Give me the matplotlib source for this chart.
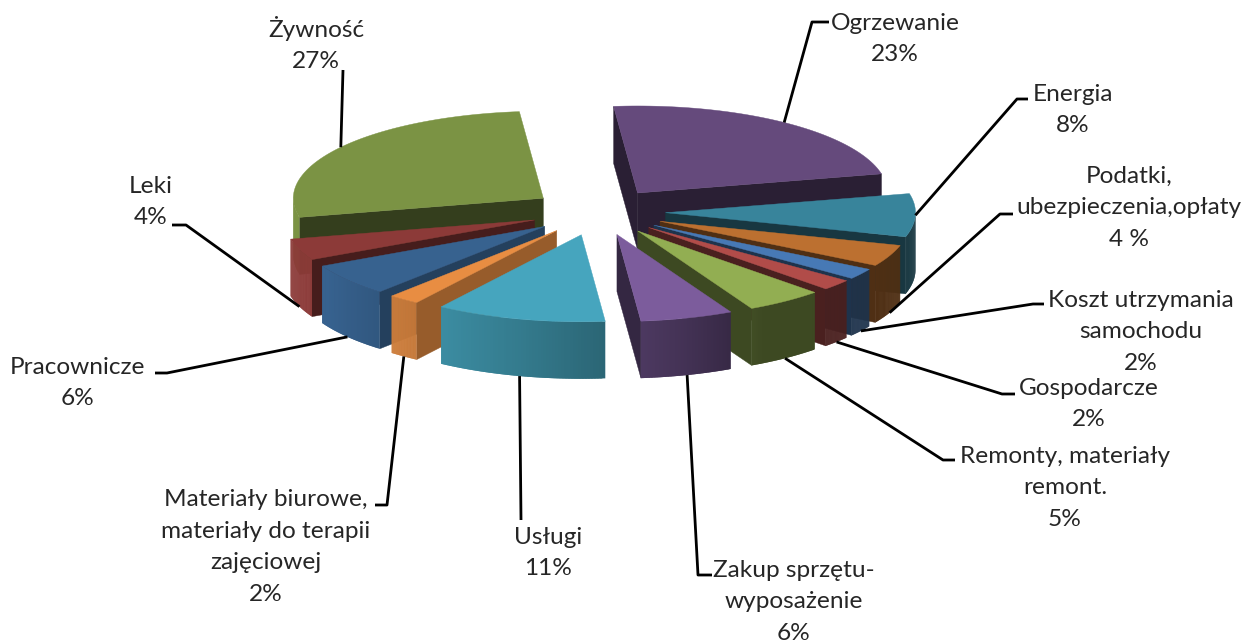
""" Exploded 3D pie of cost shares, drawn as projected polygons on a pixel canvas.
"""
import matplotlib
matplotlib.use('Agg')
import matplotlib.pyplot as plt
import numpy as np
from matplotlib.colors import to_rgb
from matplotlib.patches import Polygon

labels = ['Ogrzewanie\n23%', 'Energia\n8%', 'Podatki,\nubezpieczenia,opłaty\n4 %',
          'Koszt utrzymania\nsamochodu\n2%', 'Gospodarcze\n2%',
          'Remonty, materiały\nremont.\n5%', 'Zakup sprzętu-\nwyposażenie\n6%',
          'Usługi\n11%', 'Materiały biurowe,\nmateriały do terapii\nzajęciowej\n2%',
          'Pracownicze\n6%', 'Leki\n4%', 'Żywność\n27%']
shares = [23, 8, 4, 2, 2, 5, 6, 11, 2, 6, 4, 27]
colors = ['#654a7c', '#38849b', '#bc7030', '#4779b5', '#b14c49', '#92ae52',
          '#7c5c9c', '#46a5be', '#e88d42', '#37628f', '#8c3a38', '#7b9344']

# Label centre and the elbow of its leader line, in pixels.
label_xy = [(895, 39), (1073, 110), (1129, 208), (1141, 332), (1089, 404), (1065, 488),
            (794, 602), (548, 553), (266, 547), (78, 383), (151, 202), (316, 44)]
elbows = [[(812, 22), (829, 22)], [(1017, 99), (1028, 99)], [(1000, 214), (1013, 214)],
          [(1033, 304), (1044, 304)], [(1002, 394), (1015, 394)], [(943, 460), (955, 460)],
          [(698, 575), (712, 575)], [(521, 520)], [(387, 505), (375, 505)],
          [(167, 373), (155, 373)], [(186, 225), (172, 225)], [(343, 70)]]

CENTER = np.array([598.0, 212.0])
RX, RY = 250.0, 87.0
DEPTH = 57.0
EXPLODE = 0.27
START = -5.5


def rim(phi):
    """ Screen offset of the pie rim at angle phi (degrees, clockwise from north). """
    phi = np.radians(phi)
    return np.stack([RX * np.sin(phi), -RY * np.cos(phi)], axis=-1)


def cut_visible(apex, edge, mid):
    """ A cut face shows if the slice lies on the far side of the edge from the extrusion. """
    e = edge - apex
    m = mid - apex
    return (e[0] * m[1] - e[1] * m[0]) * e[0] < 0


def wall_shade(phi):
    return np.interp(phi, [150, 165, 175, 195, 214, 240], [0.42, 0.55, 0.62, 0.75, 0.85, 1.0])


def cut_shade(phi):
    return np.interp(phi, [190, 200, 225, 243, 257], [0.42, 0.65, 0.65, 0.5, 0.42])


def shaded(color, factor):
    return tuple(np.array(to_rgb(color)) * factor)


def draw_slice(ax, apex, phi0, phi1, color):
    phis = np.linspace(phi0, phi1, 60)
    arc = apex + rim(phis)
    mid = apex + rim((phi0 + phi1) / 2)
    down = np.array([0, DEPTH])

    for phi, edge in ((phi0, arc[0]), (phi1, arc[-1])):
        if cut_visible(apex, edge, mid):
            c = shaded(color, cut_shade(phi % 360))
            ax.add_patch(Polygon([apex, edge, edge + down, apex + down],
                                 fc=c, ec=c, lw=0.3))

    # Wall strips overlap the next one so no background shows through the seams.
    for i in range(len(phis) - 1):
        phi = (phis[i] + phis[i + 1]) / 2
        if np.cos(np.radians(phi)) < 0:
            j = min(i + 2, len(phis) - 1)
            ax.add_patch(Polygon([arc[i], *arc[i + 1:j + 1], arc[j] + down,
                                  *(arc[i + 1:j] + down)[::-1], arc[i] + down],
                                 fc=shaded(color, wall_shade(phi % 360)), ec='none', lw=0))

    ax.add_patch(Polygon(np.vstack([apex, arc]), fc=color, ec=color, lw=0.3))


def main():
    fig = plt.figure(figsize=(12.45, 6.43), dpi=100)
    ax = fig.add_axes([0, 0, 1, 1])
    ax.set_xlim(0, 1245)
    ax.set_ylim(643, 0)
    ax.axis('off')

    edges = START + np.cumsum([0] + shares) * 3.6
    mids = (edges[:-1] + edges[1:]) / 2
    apexes = [CENTER + EXPLODE * rim(m) for m in mids]

    # Paint from the back of the pie to the front.
    for i in np.argsort([a[1] for a in apexes]):
        draw_slice(ax, apexes[i], edges[i], edges[i + 1], colors[i])

    for i, text in enumerate(labels):
        anchor = apexes[i] + rim(mids[i])
        if np.cos(np.radians(mids[i])) < -0.2:
            anchor = anchor + np.array([0, DEPTH])
        pts = np.array([anchor] + elbows[i])
        ax.plot(pts[:, 0], pts[:, 1], color='black', lw=2, solid_capstyle='butt')
        ax.text(label_xy[i][0], label_xy[i][1], text, ha='center', va='center',
                family='Lato', fontsize=17.6, color='#262626', linespacing=1.63)

    fig.savefig('out.png', dpi=100)


if __name__ == '__main__':
    main()
